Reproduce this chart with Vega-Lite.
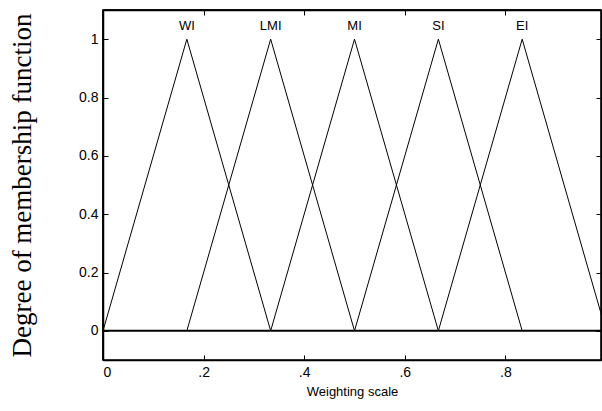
{
  "$schema": "https://vega.github.io/schema/vega-lite/v6.json",
  "width": 498,
  "height": 350,
  "autosize": "none",
  "padding": {"left": 103, "top": 10, "right": 1, "bottom": 51},
  "background": "white",
  "config": {
    "view": {"stroke": "black", "strokeWidth": 1.5},
    "axis": {"grid": false, "domain": true, "domainColor": "black", "domainWidth": 1.5, "tickColor": "black", "tickWidth": 1, "labelColor": "black", "labelFont": "Liberation Sans", "labelFontSize": 14, "titleFont": "Liberation Sans", "titleColor": "black", "tickSize": -5, "labelPadding": 10}
  },
  "datasets": {
    "mf": [
      {"set": "WI", "x": 0, "y": 0}, {"set": "WI", "x": 0.1667, "y": 1}, {"set": "WI", "x": 0.3333, "y": 0},
      {"set": "LMI", "x": 0.1667, "y": 0}, {"set": "LMI", "x": 0.3333, "y": 1}, {"set": "LMI", "x": 0.5, "y": 0},
      {"set": "MI", "x": 0.3333, "y": 0}, {"set": "MI", "x": 0.5, "y": 1}, {"set": "MI", "x": 0.6667, "y": 0},
      {"set": "SI", "x": 0.5, "y": 0}, {"set": "SI", "x": 0.6667, "y": 1}, {"set": "SI", "x": 0.8333, "y": 0},
      {"set": "EI", "x": 0.6667, "y": 0}, {"set": "EI", "x": 0.8333, "y": 1}, {"set": "EI", "x": 1.0, "y": 0}
    ],
    "labels": [
      {"set": "WI", "x": 0.1667, "y": 1.045},
      {"set": "LMI", "x": 0.3333, "y": 1.045},
      {"set": "MI", "x": 0.5, "y": 1.045},
      {"set": "SI", "x": 0.6667, "y": 1.045},
      {"set": "EI", "x": 0.8333, "y": 1.045}
    ],
    "zero": [{"x": 0, "y": 0}, {"x": 0.99, "y": 0}]
  },
  "layer": [
    {
      "data": {"name": "mf"},
      "mark": {"type": "line", "color": "black", "strokeWidth": 1, "clip": true},
      "encoding": {
        "x": {"field": "x", "type": "quantitative", "scale": {"domain": [0, 0.99], "nice": false, "zero": false},
          "axis": {"values": [0, 0.2, 0.4, 0.6, 0.8], "labelExpr": "replace(format(datum.value, '.1~f'), '0.', '.')", "title": "Weighting scale", "titleFontSize": 13, "titleFontWeight": "normal", "titlePadding": 6}},
        "y": {"field": "y", "type": "quantitative", "scale": {"domain": [-0.1, 1.1], "nice": false, "zero": false},
          "axis": {"values": [0, 0.2, 0.4, 0.6, 0.8, 1], "labelExpr": "format(datum.value, '.1~f')", "title": "Degree of membership function", "titleFont": "Liberation Serif", "titleFontSize": 27, "titleFontWeight": "normal", "titlePadding": 42}},
        "detail": {"field": "set"}
      }
    },
    {
      "data": {"name": "zero"},
      "mark": {"type": "line", "color": "black", "strokeWidth": 2},
      "encoding": {
        "x": {"field": "x", "type": "quantitative", "axis": null},
        "y": {"field": "y", "type": "quantitative", "axis": null}
      }
    },
    {
      "data": {"values": [{"x": 0}]},
      "mark": {"type": "rule", "color": "black", "strokeWidth": 1.5},
      "encoding": {
        "x": {"field": "x", "type": "quantitative", "axis": null}
      }
    },
    {
      "data": {"values": [{"y": 1.1}]},
      "mark": {"type": "rule", "color": "black", "strokeWidth": 1.5},
      "encoding": {
        "y": {"field": "y", "type": "quantitative", "axis": null}
      }
    },
    {
      "data": {"name": "labels"},
      "mark": {"type": "text", "font": "Liberation Sans", "fontSize": 13, "color": "black", "baseline": "middle"},
      "encoding": {
        "x": {"field": "x", "type": "quantitative", "axis": null},
        "y": {"field": "y", "type": "quantitative", "axis": null},
        "text": {"field": "set"}
      }
    },
    {
      "data": {"values": [{"x": 0}]},
      "mark": {"type": "point", "opacity": 0},
      "encoding": {
        "x": {"field": "x", "type": "quantitative", "axis": {"orient": "top", "values": [0, 0.2, 0.4, 0.6, 0.8], "labels": false, "title": null}},
        "y": {"field": "x", "type": "quantitative", "axis": {"orient": "right", "values": [0, 0.2, 0.4, 0.6, 0.8, 1], "labels": false, "title": null}}
      }
    }
  ],
  "resolve": {"scale": {"x": "shared", "y": "shared"}, "axis": {"x": "independent", "y": "independent"}}
}
